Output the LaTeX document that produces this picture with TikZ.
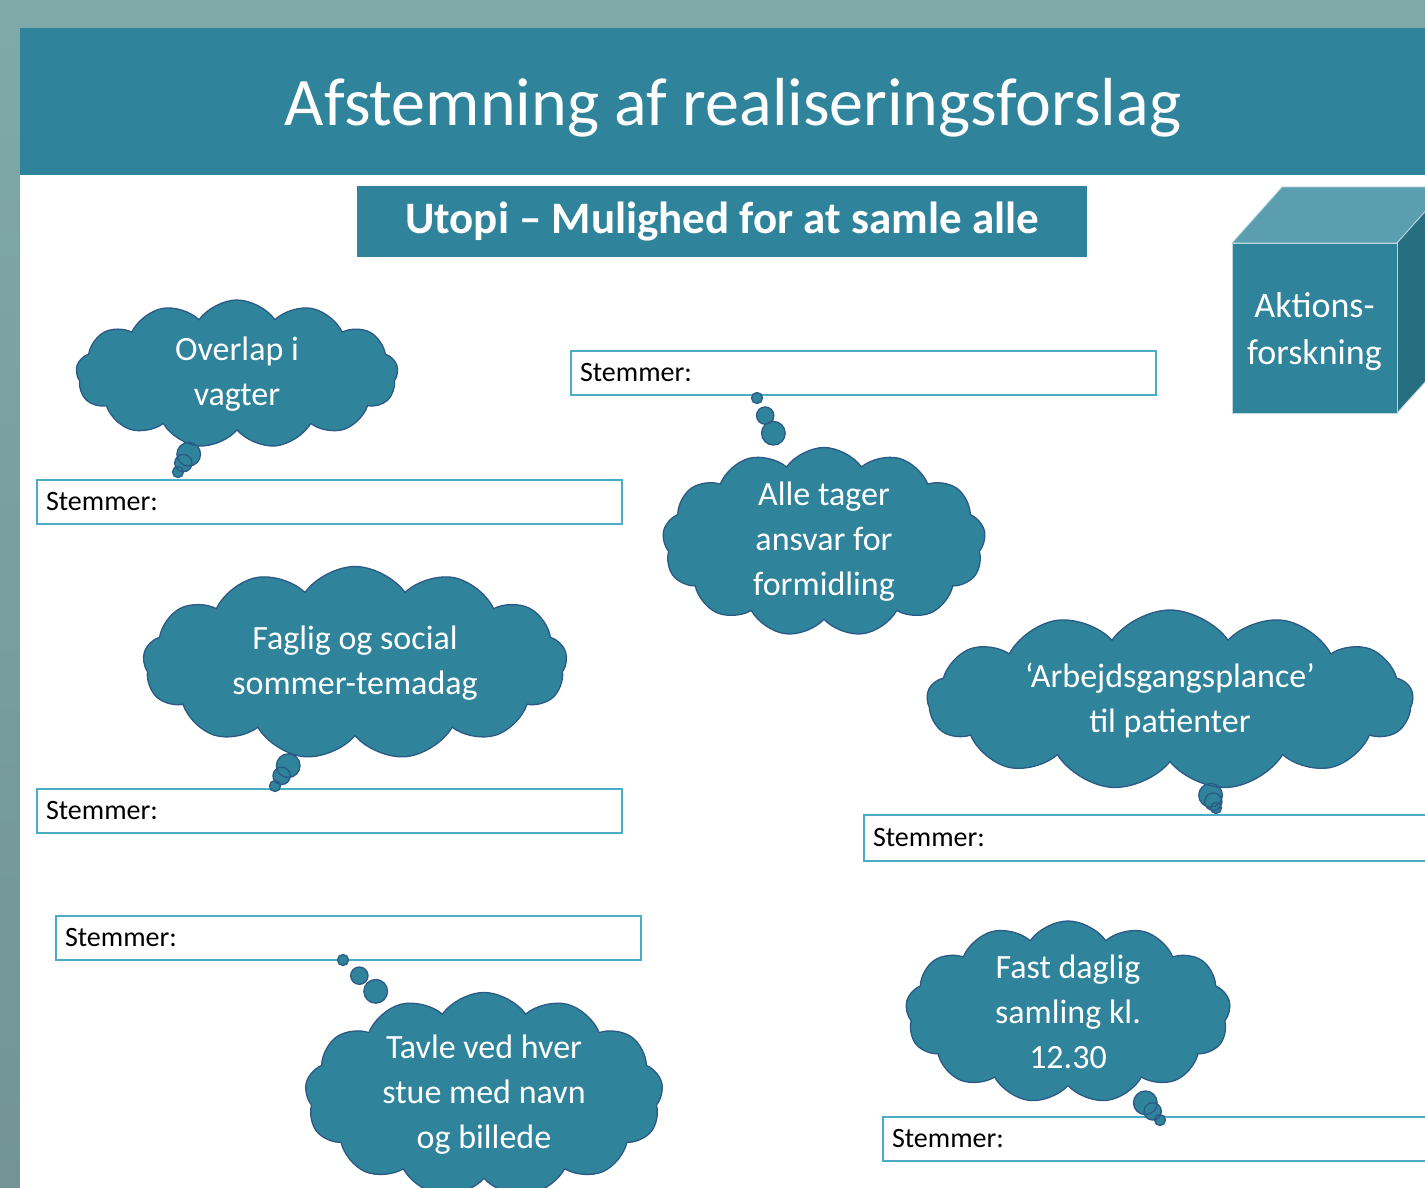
\documentclass[tikz,border=0pt]{standalone}
\usepackage{fontspec}
\setmainfont{Carlito}
\usepackage{tikz}
\usetikzlibrary{shapes.callouts,shapes.symbols}

\definecolor{slideside}{HTML}{7FA9A9}
\definecolor{slidesidelow}{HTML}{729494}
\definecolor{headteal}{HTML}{2F839A}
\definecolor{cubetop}{HTML}{5B9EB0}
\definecolor{cubeside}{HTML}{276E80}
\definecolor{boxline}{HTML}{4BACC6}
\definecolor{cloudline}{HTML}{2C5A86}

\begin{document}
\begin{tikzpicture}[x=1pt,y=-1pt,
    stembox/.style={draw=boxline, line width=2pt, fill=white, anchor=north west,
      text width=567pt, inner xsep=9pt, inner ysep=0pt, minimum height=44pt, align=left,
      font=\fontsize{28}{30}\selectfont},
    thought/.style={cloud callout, draw=cloudline, line width=1.3pt, fill=headteal,
      text=white, align=center, font=\fontsize{34}{45}\selectfont,
      cloud puffs=13, cloud puff arc=110, cloud ignores aspect, inner sep=0pt,
      callout pointer segments=3, callout pointer start size=30pt,
      callout pointer end size=11pt}]
        \useasboundingbox (0,0) rectangle (1425,1188);
        \clip (0,0) rectangle (1425,1188);
        \shade[top color=slideside, bottom color=slidesidelow] (0,0) rectangle (1425,1188);
        \fill[white] (20,28) rectangle (1425,1188);

        % header
        \fill[headteal] (20,28) rectangle (1425,175);
        \node[text=white, font=\fontsize{68}{72}\selectfont] (title) at (733,108) {Afstemning af realiseringsforslag};
        \node[fill=headteal, text=white, inner sep=0pt, minimum width=730, minimum height=71,
          font=\bfseries\fontsize{45}{48}\selectfont] (utopi) at (722,221.5) {Utopi – Mulighed for at samle alle};

        % cube
        \fill[cubetop, draw=white!60!cubetop, line width=0.8pt] (1232,243) -- (1282,187) -- (1447,187) -- (1397,243) -- cycle;
        \fill[cubeside, draw=white!60!cubetop, line width=0.8pt] (1397,243) -- (1447,187) -- (1447,358) -- (1397,413) -- cycle;
        \fill[headteal, draw=white!60!cubetop, line width=0.8pt] (1232,243) rectangle (1397,413);
        \node[text=white, align=center, font=\fontsize{36}{47}\selectfont] (cube) at (1314.5,332) {Aktions-\\forskning};

        % stemmer
        \node[stembox] (stemA) at (36,479) {Stemmer:};
        \node[stembox] (stemB) at (570,350) {Stemmer:};
        \node[stembox] (stemC) at (36,788) {Stemmer:};
        \node[stembox, minimum height=46] (stemD) at (863,814) {Stemmer:};
        \node[stembox] (stemE) at (55,915) {Stemmer:};
        \node[stembox] (stemF) at (882,1116) {Stemmer:};

        % tips
        \coordinate (tip1) at (178,472);
        \coordinate (tip2) at (757,398);
        \coordinate (tip3) at (275,786);
        \coordinate (tip4) at (1216,808);
        \coordinate (tip5) at (1160,1120);
        \coordinate (tip6) at (343,960);

        % clouds
        \node[thought, minimum width=322, minimum height=148, callout absolute pointer={(tip1)}]
          (vagter) at (237,374) {Overlap i\\vagter};
        \node[thought, minimum width=323, minimum height=180, callout absolute pointer={(tip2)}]
          (ansvar) at (824,542) {Alle tager\\ansvar for\\formidling};
        \node[thought, minimum width=424, minimum height=193, callout absolute pointer={(tip3)}]
          (temadag) at (355,663) {Faglig og social\\sommer-temadag};
        \node[thought, minimum width=486, minimum height=180, callout absolute pointer={(tip4)}]
          (plan) at (1170,700) {‘Arbejdsgangsplance’\\til patienter};
        \node[thought, minimum width=325, minimum height=155, callout absolute pointer={(tip5)}]
          (samling) at (1068,1012) {Fast daglig\\samling kl.\\12.30};
        \node[thought, minimum width=358, minimum height=205, callout absolute pointer={(tip6)}]
          (tavle) at (484,1095) {Tavle ved hver\\stue med navn\\og billede};

      \end{tikzpicture}
\end{document}
